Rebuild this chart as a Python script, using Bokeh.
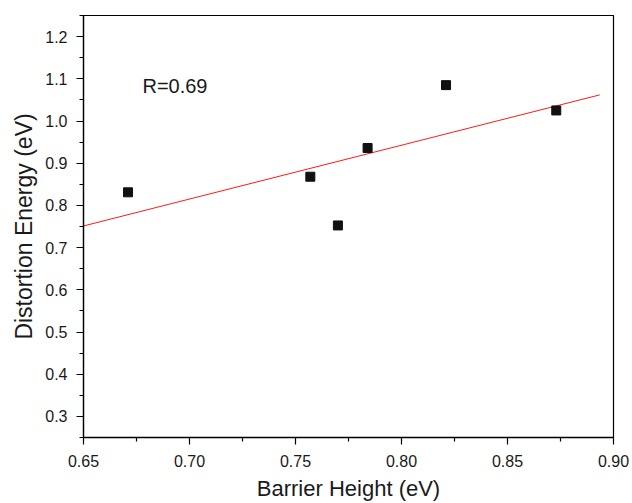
from bokeh.plotting import figure
from bokeh.models import FixedTicker, PrintfTickFormatter, Range1d, Label
from bokeh.embed import file_html
from bokeh.resources import INLINE
import numpy as np

# data
barrier_height = [0.671, 0.757, 0.770, 0.784, 0.821, 0.873]
distortion_energy = [0.831, 0.868, 0.7525, 0.936, 1.085, 1.025]
fit_x = [0.65, 0.8935]

x_major = [0.65, 0.70, 0.75, 0.80, 0.85, 0.90]
x_minor = [0.675, 0.725, 0.775, 0.825, 0.875]
y_major = [0.3, 0.4, 0.5, 0.6, 0.7, 0.8, 0.9, 1.0, 1.1, 1.2]
y_minor = [0.25, 0.35, 0.45, 0.55, 0.65, 0.75, 0.85, 0.95, 1.05, 1.15, 1.25]

r_text = "R=0.69"
r_pos = (0.6778, 1.084)

FONT = "Liberation Sans"
TXT = "#1a1a1a"

slope, intercept = np.polyfit(barrier_height, distortion_energy, 1)
fit_y = [slope * xv + intercept for xv in fit_x]

p = figure(width=632, height=503, output_backend="svg", toolbar_location=None,
           x_range=Range1d(0.65, 0.90), y_range=Range1d(0.25, 1.25),
           min_border_left=83, min_border_right=19, min_border_top=15, min_border_bottom=66)

p.xgrid.visible = False
p.ygrid.visible = False
p.outline_line_color = "black"
p.outline_line_width = 1.2
p.outline_line_alpha = 1.0
p.background_fill_color = "white"
p.border_fill_color = "white"

p.line(fit_x, fit_y, line_color="#ff1a1a", line_width=1)
p.scatter(barrier_height, distortion_energy, marker="square", size=9,
          fill_color="#111111", line_color="#111111")

p.add_layout(Label(x=r_pos[0], y=r_pos[1], text=r_text, text_font=FONT,
                   text_font_size="20px", text_color=TXT, text_baseline="middle",
                   text_align="left"))

p.xaxis.ticker = FixedTicker(ticks=x_major, minor_ticks=x_minor)
p.yaxis.ticker = FixedTicker(ticks=y_major, minor_ticks=y_minor)
p.xaxis.formatter = PrintfTickFormatter(format="%.2f")
p.yaxis.formatter = PrintfTickFormatter(format="%.1f")

p.xaxis.axis_label = "Barrier Height (eV)"
p.yaxis.axis_label = "Distortion Energy (eV)"

for ax in (p.xaxis, p.yaxis):
    ax.axis_line_color = "black"
    ax.axis_line_width = 1.3
    ax.major_tick_line_color = "black"
    ax.minor_tick_line_color = "black"
    ax.major_tick_line_width = 1.2
    ax.minor_tick_line_width = 1.2
    ax.major_tick_out = 7
    ax.major_tick_in = 0
    ax.minor_tick_out = 4
    ax.minor_tick_in = 0
    ax.major_label_text_font = FONT
    ax.major_label_text_font_size = "16px"
    ax.major_label_text_color = TXT
    ax.axis_label_text_font = FONT
    ax.axis_label_text_font_style = "normal"
    ax.axis_label_text_color = TXT

p.xaxis.axis_label_text_font_size = "22px"
p.yaxis.axis_label_text_font_size = "23px"
p.xaxis.major_label_standoff = 10
p.yaxis.major_label_standoff = 9
p.xaxis.axis_label_standoff = 6
p.yaxis.axis_label_standoff = 5

open("out.html", "w").write(file_html(p, INLINE))
